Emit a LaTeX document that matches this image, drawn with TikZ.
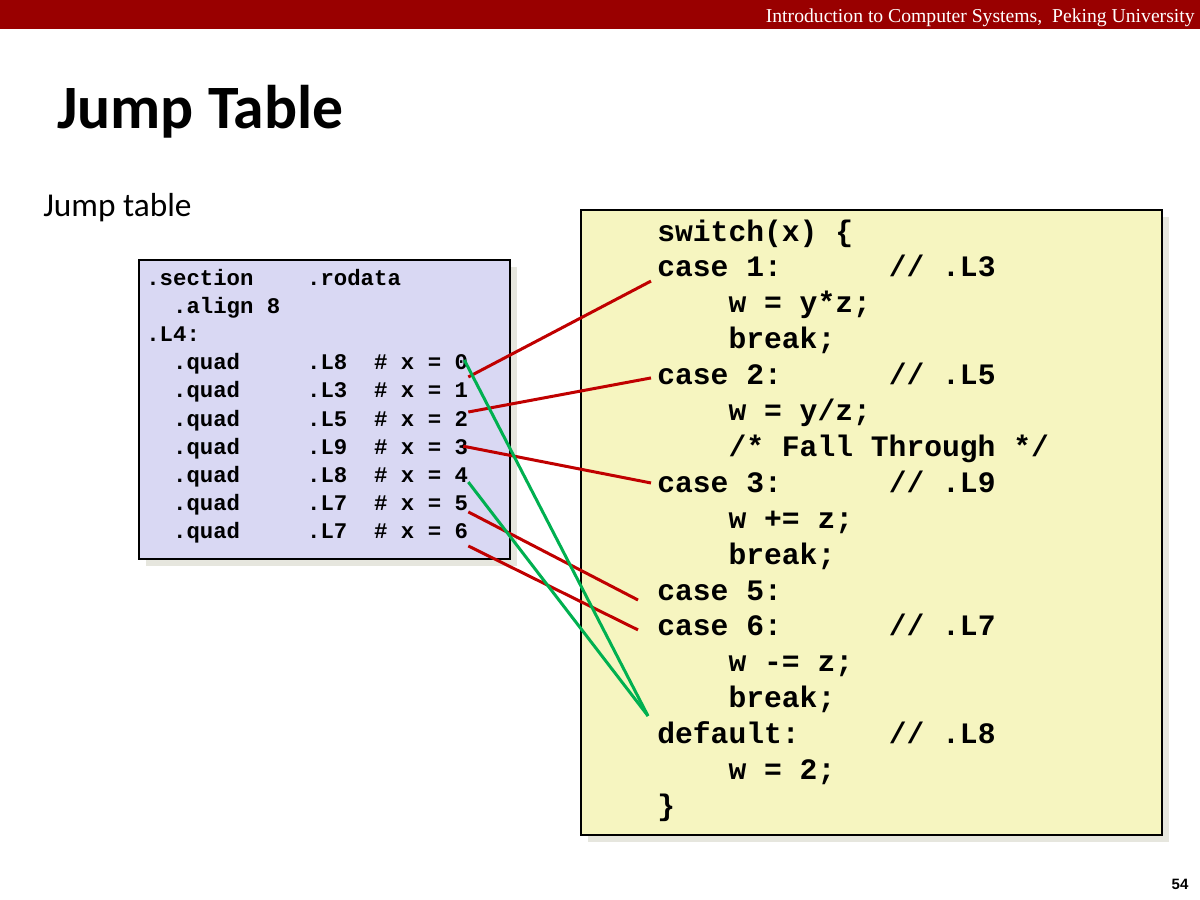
\documentclass[tikz,border=0pt]{standalone}
\usepackage{fontspec}
\setmainfont{Carlito}
\setmonofont{Liberation Mono}
\newfontfamily\hdfont{Liberation Serif}
\newfontfamily\pgfont{Liberation Sans}
\usepackage{tikz}
\usetikzlibrary{positioning}

\definecolor{barred}{RGB}{153,0,0}
\definecolor{tablebg}{RGB}{217,216,243}
\definecolor{codebg}{RGB}{246,245,192}
\definecolor{shadowgray}{RGB}{230,230,222}
\definecolor{linkred}{RGB}{192,0,0}
\definecolor{linkgreen}{RGB}{0,176,80}

\tikzset{
  asm/.style={anchor=base west,inner sep=0pt,font=\fontsize{13.4}{16}\selectfont\ttfamily\bfseries},
  src/.style={anchor=base west,inner sep=0pt,font=\fontsize{17.8}{22}\selectfont\ttfamily\bfseries},
  redlink/.style={linkred,line width=1.8pt},
  greenlink/.style={linkgreen,line width=1.8pt},
  codebox/.style={draw=black,line width=1.2pt}
}

\begin{document}
\begin{tikzpicture}[x=0.6pt,y=-0.6pt]
\useasboundingbox[fill=white] (0,0) rectangle (1200,900);
% header and titles
\fill[barred] (0,0) rectangle (1200,29);
\node[anchor=base east,inner sep=0pt,text=white,font=\hdfont\fontsize{11.8}{13}\selectfont] (hdr) at (1195,22) {Introduction to Computer Systems,\ \ Peking University};
\node[anchor=base west,inner sep=0pt,font=\fontsize{37}{44}\selectfont\bfseries] (title) at (57,128) {Jump Table};
\node[anchor=base west,inner sep=0pt,font=\fontsize{20}{24}\selectfont] (sub) at (43,216) {Jump table};
\node[inner sep=0pt,font=\pgfont\fontsize{9}{11}\selectfont\bfseries] (pg) at (1180,884) {54};

% boxes
\fill[shadowgray] (146,267) rectangle (517,566);
\filldraw[codebox,fill=tablebg] (139,260) rectangle (510,559);
\fill[shadowgray] (588,217) rectangle (1169,842);
\filldraw[codebox,fill=codebg] (581,210) rectangle (1162,835);

% jump table
\node[asm] (sec) at (146,285) {.section~~~~.rodata};
\node[asm] (aln) at (146,313.2) {~~.align~8};
\node[asm] (lfour) at (146,341.4) {.L4:};
\node[asm] (q0) at (146,369.6) {~~.quad~~~~~.L8~~\#~x~=~0};
\node[asm] (q1) at (146,397.8) {~~.quad~~~~~.L3~~\#~x~=~1};
\node[asm] (q2) at (146,426) {~~.quad~~~~~.L5~~\#~x~=~2};
\node[asm] (q3) at (146,454.2) {~~.quad~~~~~.L9~~\#~x~=~3};
\node[asm] (q4) at (146,482.4) {~~.quad~~~~~.L8~~\#~x~=~4};
\node[asm] (q5) at (146,510.6) {~~.quad~~~~~.L7~~\#~x~=~5};
\node[asm] (q6) at (146,538.8) {~~.quad~~~~~.L7~~\#~x~=~6};

% switch source
\node[src] (sw) at (657,241) {switch(x)~\{};
\node[src] (c1) at (657,276.9) {case~1:~~~~~~//~.L3};
\node[src] (b1) at (657,312.8) {~~~~w~=~y*z;};
\node[src] (k1) at (657,348.7) {~~~~break;};
\node[src] (c2) at (657,384.6) {case~2:~~~~~~//~.L5};
\node[src] (b2) at (657,420.5) {~~~~w~=~y/z;};
\node[src] (ft) at (657,456.4) {~~~~/*~Fall~Through~*/};
\node[src] (c3) at (657,492.3) {case~3:~~~~~~//~.L9};
\node[src] (b3) at (657,528.2) {~~~~w~+=~z;};
\node[src] (k3) at (657,564.1) {~~~~break;};
\node[src] (c5) at (657,600) {case~5:};
\node[src] (c6) at (657,635.9) {case~6:~~~~~~//~.L7};
\node[src] (b6) at (657,671.8) {~~~~w~-=~z;};
\node[src] (k6) at (657,707.7) {~~~~break;};
\node[src] (dflt) at (657,743.6) {default:~~~~~//~.L8};
\node[src] (bd) at (657,779.5) {~~~~w~=~2;};
\node[src] (cls) at (657,815.4) {\}};

% links
\draw[redlink] ([yshift=12.5pt]q1.base east) -- ([xshift=-3.6pt,yshift=-2.5pt]c1.base west);
\draw[redlink] ([yshift=8.4pt]q2.base east) -- ([xshift=-3.6pt,yshift=4pt]c2.base west);
\draw[redlink] ([xshift=-3pt,yshift=4.8pt]q3.base east) -- ([xshift=-3.6pt,yshift=5.6pt]c3.base west);
\draw[redlink] ([yshift=-0.8pt]q5.base east) -- ([xshift=-11.4pt]c5.base west);
\draw[redlink] ([yshift=-4.3pt]q6.base east) -- ([xshift=-11.4pt,yshift=3.6pt]c6.base west);
\draw[greenlink] ([xshift=-2.4pt,yshift=5.8pt]q0.base east) -- ([xshift=-5.4pt,yshift=16.6pt]dflt.base west);
\draw[greenlink] ([yshift=0.2pt]q4.base east) -- ([xshift=-5.4pt,yshift=16.6pt]dflt.base west);
\end{tikzpicture}
\end{document}
